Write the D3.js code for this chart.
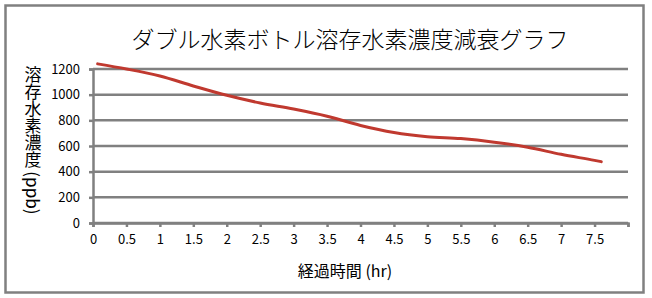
<!DOCTYPE html>
<html>
<head>
<meta charset="utf-8">
<script src="https://cdn.jsdelivr.net/npm/d3@7"></script>
<style>
  body { margin: 0; background: #fff; }
  svg text { font-family: "Noto Sans CJK JP", "Noto Sans", sans-serif; fill: #000; }
</style>
</head>
<body>
<div id="chart"></div>
<script>
// hours elapsed and dissolved hydrogen (ppb)
const hours = [0.07, 0.5, 1, 1.5, 2, 2.5, 3, 3.5, 4, 4.5, 5, 5.5, 6, 6.5, 7, 7.5, 7.6];
const ppb = [1240, 1200, 1145, 1068, 995, 935, 888, 832, 760, 705, 673, 658, 630, 590, 535, 488, 478];
const xTicks = [0, 0.5, 1, 1.5, 2, 2.5, 3, 3.5, 4, 4.5, 5, 5.5, 6, 6.5, 7, 7.5];
const yTicks = [0, 200, 400, 600, 800, 1000, 1200];

const width = 652, height = 298;
const svg = d3.select("#chart").append("svg")
    .attr("width", width)
    .attr("height", height);

// outer frame
svg.append("rect")
    .attr("x", 5.5).attr("y", 5.5)
    .attr("width", 638).attr("height", 287)
    .attr("fill", "#fff")
    .attr("stroke", "#808080")
    .attr("stroke-width", 2.5);

let x = d3.scaleLinear().domain([0, 8]).range([93, 628]);
let y = d3.scaleLinear().domain([0, 1200]).range([223, 69]);

// grid lines
svg.append("g")
    .selectAll("line")
    .data(yTicks)
    .enter().append("line")
    .attr("x1", x(0)).attr("x2", x(8))
    .attr("y1", d => y(d)).attr("y2", d => y(d))
    .attr("stroke", "#808080")
    .attr("stroke-width", 2.5);

// y axis
let yAxis = d3.axisLeft(y).tickValues(yTicks).tickSize(4).tickPadding(9)
    .tickFormat(d3.format("d"));
let gy = svg.append("g")
    .attr("transform", "translate(" + x(0) + ",0)")
    .call(yAxis);
gy.select(".domain").attr("stroke", "#808080").attr("stroke-width", 2.5);
gy.selectAll(".tick line").attr("stroke", "#808080").attr("stroke-width", 2.5);
gy.selectAll("text").style("font-size", "13px").attr("font-family", "Open Sans");

// x axis
let xAxis = d3.axisBottom(x).tickValues(xTicks.concat([8])).tickSize(4).tickPadding(8)
    .tickFormat(d => d === 8 ? "" : String(d));
let gx = svg.append("g")
    .attr("transform", "translate(0," + y(0) + ")")
    .call(xAxis);
gx.select(".domain").attr("stroke", "#808080").attr("stroke-width", 2.5);
gx.selectAll(".tick line").attr("stroke", "#808080").attr("stroke-width", 2.5);
gx.selectAll("text").style("font-size", "13px").attr("font-family", "Open Sans");

// the decay line
let line = d3.line()
    .x((d, i) => x(hours[i]))
    .y(d => y(d))
    .curve(d3.curveMonotoneX);

svg.append("path")
    .datum(ppb)
    .attr("d", line)
    .attr("fill", "none")
    .attr("stroke", "#c0392f")
    .attr("stroke-width", 3)
    .attr("stroke-linecap", "round");

// titles
svg.append("text")
    .attr("x", 350).attr("y", 48)
    .attr("text-anchor", "middle")
    .style("font-size", "23px")
    .style("font-weight", 300)
    .text("ダブル水素ボトル溶存水素濃度減衰グラフ");

svg.append("text")
    .attr("x", 345).attr("y", 277)
    .attr("text-anchor", "middle")
    .style("font-size", "16px")
    .text("経過時間 (hr)");

svg.append("text")
    .attr("x", 33).attr("y", 140)
    .attr("text-anchor", "middle")
    .style("font-size", "17px")
    .style("writing-mode", "vertical-rl")
    .style("text-orientation", "mixed")
    .text("溶存水素濃度 (ppb)");
</script>
</body>
</html>
